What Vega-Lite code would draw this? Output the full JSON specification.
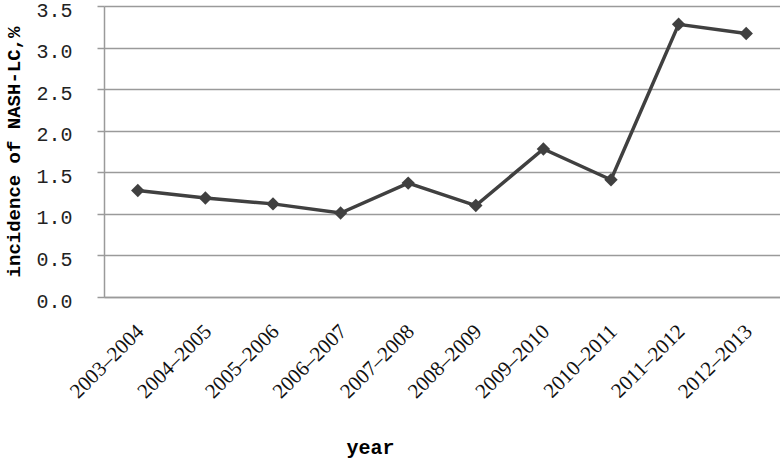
{
  "$schema": "https://vega.github.io/schema/vega-lite/v6.json",
  "width": 676,
  "height": 291,
  "autosize": {"type": "none"},
  "padding": {"left": 104, "top": 6, "right": 0, "bottom": 164},
  "background": "white",
  "config": {"view": {"stroke": null}},
  "data": {
    "values": [
      {"year": "2003–2004", "incidence": 1.28},
      {"year": "2004–2005", "incidence": 1.19},
      {"year": "2005–2006", "incidence": 1.12},
      {"year": "2006–2007", "incidence": 1.01},
      {"year": "2007–2008", "incidence": 1.37},
      {"year": "2008–2009", "incidence": 1.10},
      {"year": "2009–2010", "incidence": 1.78},
      {"year": "2010–2011", "incidence": 1.41},
      {"year": "2011–2012", "incidence": 3.28},
      {"year": "2012–2013", "incidence": 3.17}
    ]
  },
  "encoding": {
    "x": {
      "field": "year",
      "type": "ordinal",
      "sort": null,
      "scale": {"type": "band", "paddingInner": 0, "paddingOuter": 0},
      "axis": {
        "title": "year",
        "titleFont": "Liberation Mono",
        "titleFontSize": 20,
        "titleFontWeight": "bold",
        "titleColor": "black",
        "titleX": 266,
        "titleY": 150,
        "titleAlign": "center",
        "titleBaseline": "middle",
        "labelAngle": -45,
        "labelAlign": "right",
        "labelBaseline": "middle",
        "labelFont": "Liberation Serif",
        "labelFontSize": 21,
        "labelColor": "#111111",
        "labelPadding": 31,
        "labelOffset": 3,
        "ticks": false,
        "grid": false,
        "domain": true,
        "domainColor": "#9a9a9a",
        "domainWidth": 1.5
      }
    },
    "y": {
      "field": "incidence",
      "type": "quantitative",
      "scale": {"domain": [0, 3.5], "nice": false},
      "axis": {
        "title": "incidence of NASH-LC,%",
        "titleFont": "Liberation Mono",
        "titleFontSize": 19,
        "titleFontWeight": "bold",
        "titleColor": "black",
        "titlePadding": 12,
        "values": [0, 0.5, 1, 1.5, 2, 2.5, 3, 3.5],
        "format": ".1f",
        "labelFont": "Liberation Mono",
        "labelFontSize": 20,
        "labelColor": "#222222",
        "labelPadding": 25,
        "labelOffset": 4,
        "tickSize": 7,
        "tickColor": "#9a9a9a",
        "tickWidth": 1.5,
        "grid": true,
        "gridColor": "#9a9a9a",
        "gridWidth": 1.5,
        "domain": true,
        "domainColor": "#9a9a9a",
        "domainWidth": 1.5
      }
    }
  },
  "layer": [
    {"mark": {"type": "line", "color": "#404040", "strokeWidth": 3.5}},
    {"mark": {"type": "point", "shape": "diamond", "filled": true, "color": "#404040", "size": 180, "opacity": 1}}
  ]
}
